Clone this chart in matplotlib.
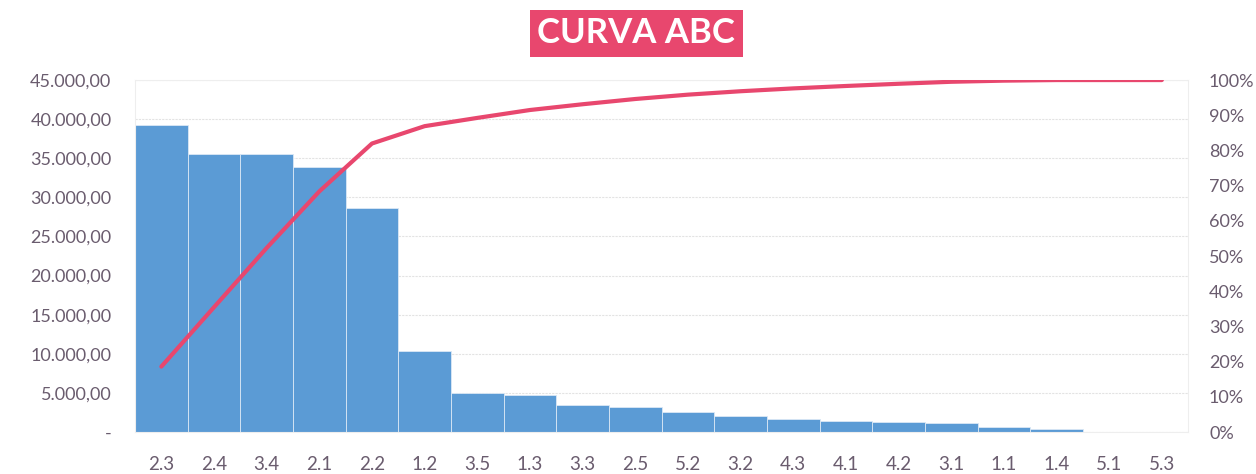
import numpy as np
import matplotlib
matplotlib.use("Agg")
import matplotlib.pyplot as plt
from matplotlib.ticker import FuncFormatter

# === DADOS ===
categorias = ["2.3", "2.4", "3.4", "2.1", "2.2", "1.2", "3.5", "1.3", "3.3", "2.5",
              "5.2", "3.2", "4.3", "4.1", "4.2", "3.1", "1.1", "1.4", "5.1", "5.3"]
valores = [39200, 35600, 35500, 33900, 28700, 10400, 4950, 4730, 3450, 3150,
           2600, 2050, 1700, 1450, 1320, 1200, 680, 350, 0, 0]

# percentual acumulado (curva ABC)
acumulado = np.cumsum(valores) / np.sum(valores)

# === ESTILO ===
plt.rcParams['font.family'] = ['Lato', 'DejaVu Sans']
cor_barra = '#5b9bd5'
cor_linha = '#e8476e'
cor_texto = '#6a5c6e'

fig = plt.figure(figsize=(12.56, 4.74), dpi=100)
ax = fig.add_axes([0.1075, 0.0886, 0.8385, 0.7425])
x = np.arange(len(categorias))

ax.bar(x, valores, width=1.0, color=cor_barra, edgecolor='#dbe8f5', linewidth=0.6, zorder=2)
ax.set_xlim(-0.5, len(categorias) - 0.5)
ax.set_ylim(0, 45000)
ax.set_yticks(np.arange(0, 45001, 5000))
ax.yaxis.set_major_formatter(FuncFormatter(
    lambda v, p: '-' if v == 0 else f"{v:,.2f}".replace(',', 'X').replace('.', ',').replace('X', '.')))
ax.set_xticks(x)
ax.set_xticklabels(categorias)
ax.grid(axis='y', color='#e3e3e3', linewidth=0.8, linestyle=(0, (2, 1)), zorder=0)
ax.tick_params(axis='both', length=0, labelsize=13, colors=cor_texto)
ax.tick_params(axis='y', pad=17)
ax.tick_params(axis='x', pad=17, labelsize=13.5)
for s in ax.spines.values():
    s.set_color('#eeeeee')
    s.set_linewidth(0.8)

ax2 = ax.twinx()
ax2.plot(x, acumulado, color=cor_linha, linewidth=3, solid_capstyle='round', zorder=3)
ax2.set_ylim(0, 1)
ax2.set_yticks(np.arange(0, 1.01, 0.1))
ax2.yaxis.set_major_formatter(FuncFormatter(lambda v, p: f"{v*100:.0f}%"))
ax2.tick_params(axis='y', length=0, labelsize=13, colors=cor_texto, pad=15)
for s in ax2.spines.values():
    s.set_visible(False)

fig.text(0.5065, 0.93, "CURVA ABC", ha='center', va='center', fontsize=25,
         fontweight='bold', color='white',
         bbox=dict(boxstyle='square,pad=0.22', facecolor=cor_linha, edgecolor='none'))

fig.savefig("out.png", dpi=100)
